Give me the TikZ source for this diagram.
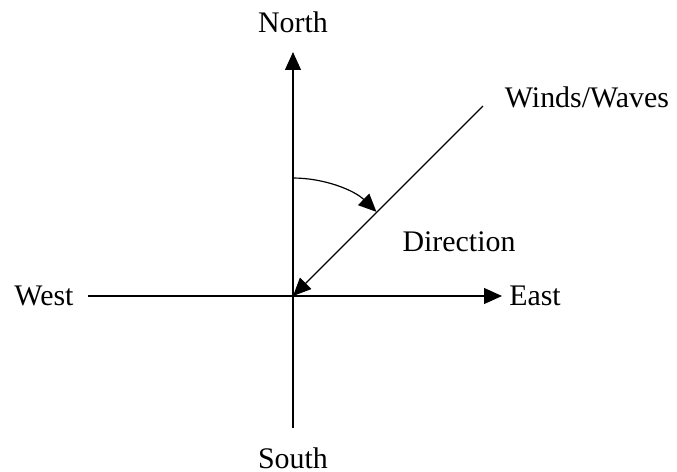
\documentclass[tikz,border=0pt]{standalone}
\usepackage{fontspec}
\setmainfont{Liberation Serif}
\usepackage{tikz}
\usetikzlibrary{arrows.meta,positioning}

\begin{document}
\begin{tikzpicture}[>={Triangle[length=9pt,width=8pt]},
    axis/.style={line width=0.6pt},
    lbl/.style={font=\fontsize{15}{18}\selectfont,inner sep=0pt}]
                \useasboundingbox (-5.168,-3.104) rectangle (6.773,5.221);
                \coordinate (O) at (0,0);
                \coordinate (ntip) at (0,4.303);
                \coordinate (send) at (0,-2.328);
                \coordinate (wend) at (-3.616,0);
                \coordinate (etip) at (3.686,0);
                \coordinate (wwend) at (3.351,3.351);
                \node[lbl] (north) at (0,4.832) {North};
                \node[lbl] (south) at (0,-2.857) {South};
                \node[lbl] (west) at (-4.392,0) {West};
                \node[lbl] (east) at (4.268,0) {East};
                \node[lbl] (winds) at (5.185,3.51) {Winds/Waves};
                \node[lbl] (dir) at (2.928,0.952) {Direction};
                \draw[axis,->] (O) -- (ntip);
                \draw[axis] (O) -- (send);
                \draw[axis,->] (wend) -- (etip);
                \draw[axis,->] (wwend) -- (O);
                \draw[axis,->] (0,2.081) arc[start angle=90,end angle=45.5,x radius=2.1,y radius=2.081];
            \end{tikzpicture}
\end{document}
